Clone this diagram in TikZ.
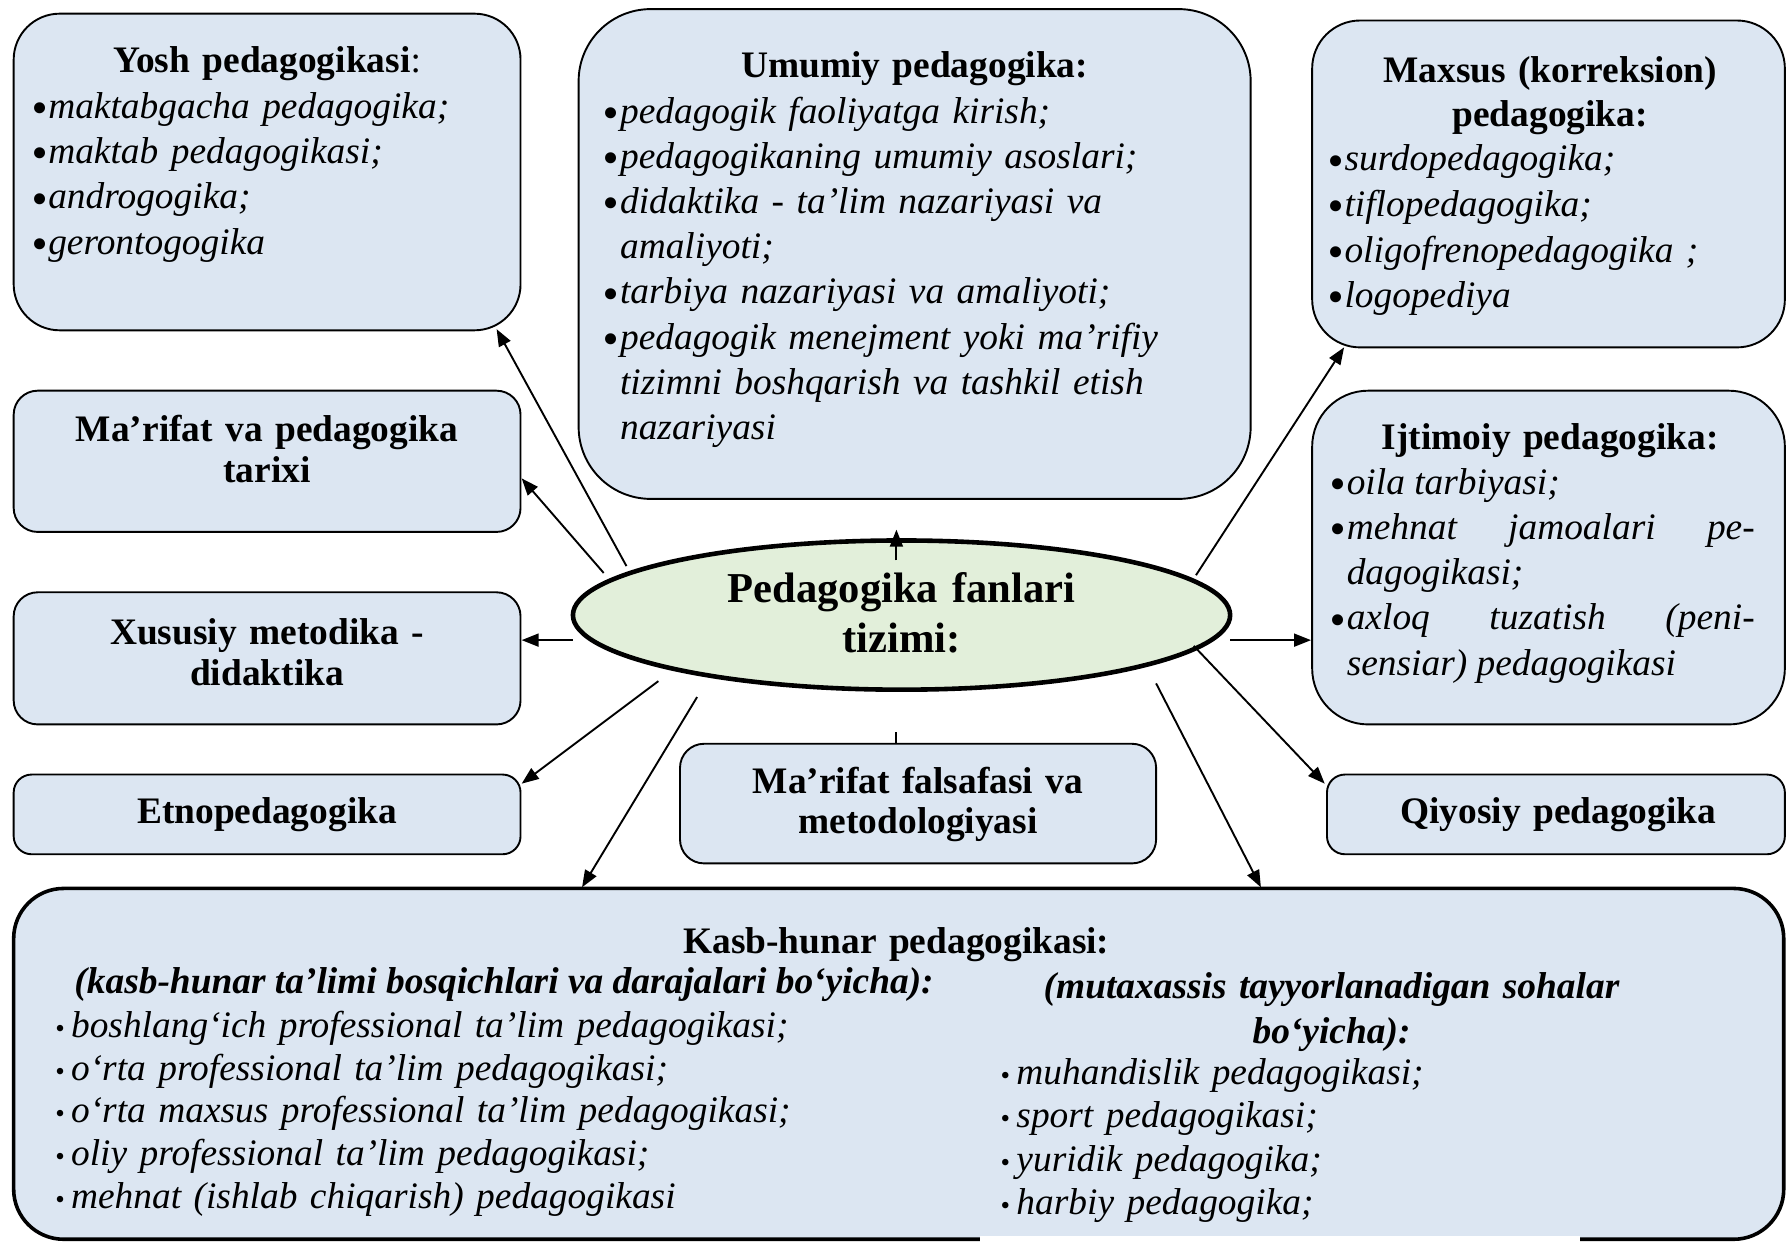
\documentclass[tikz,border=0pt]{standalone}
\usepackage{fontspec}
\setmainfont{Liberation Serif}
\usetikzlibrary{shapes.geometric,arrows.meta,fit}
\definecolor{boxblue}{HTML}{DCE6F2}
\definecolor{ellgreen}{HTML}{E2EFDA}
\newcommand{\bigbul}{\makebox[8pt][l]{\hspace{-0.6pt}\raisebox{-2.6pt}{\fontsize{23}{23}\selectfont\textbullet}}}
\newcommand{\itm}[1]{\hangindent=8pt\hangafter=1\bigbul#1\par}
\newcommand{\sitm}[1]{\makebox[8pt][l]{\fontsize{13.5}{13.5}\selectfont\textbullet}#1\par}
\begin{document}
\begin{tikzpicture}[x=0.5695pt,y=-0.5695pt,
  box/.style={draw=black, line width=0.95pt, fill=boxblue, rounded corners=#1, inner sep=0pt, outer sep=0pt},
  box/.default=10pt,
  ttl/.style={inner sep=0pt, anchor=base, text width=#1, align=center, font=\bfseries\fontsize{18.7}{20.5}\selectfont},
  ttl/.default=250pt,
  lst/.style={inner sep=0pt, anchor=base west, text width=#1, align=left, font=\itshape\fontsize{18.7}{22.6}\selectfont},
  lst/.default=330pt,
  arr/.style={line width=0.95pt, -{Triangle[length=8.5pt,width=6.5pt]}},
]
\useasboundingbox (0,0) rectangle (1568,1089.6);

% ---------- boxes ----------
\node[box=23pt, fit={(12,12) (457,290)}] (yosh) {};
\node[box=36pt, fit={(508,8) (1098,438)}] (umumiy) {};
\node[box=24pt, fit={(1152,18) (1567,305)}] (maxsus) {};
\node[box=12pt, fit={(12,343) (457,467)}] (tarixi) {};
\node[box=28pt, fit={(1152,343) (1567,636)}] (ijtimoiy) {};
\node[box=12pt, fit={(12,520) (457,636)}] (xususiy) {};
\node[box=9pt, fit={(12,680) (457,750)}] (etno) {};
\node[box=12pt, fit={(597,653) (1015,758)}] (falsafa) {};
\node[box=9pt, fit={(1165,680) (1567,750)}] (qiyosiy) {};
\node[box=25pt, line width=1.8pt, fit={(12,780) (1566,1088)}] (kasb) {};
\node[ellipse, draw=black, line width=2.3pt, fill=ellgreen, inner sep=0pt,
      minimum width=328.6pt, minimum height=74.6pt] (center) at (791.5,540) {};

% ---------- texts ----------
\node[ttl] (yoshT) at (234.5,64) {Yosh pedagogikasi{\mdseries:}};
\node[lst] (yoshL) at (28,104) {\itm{maktabgacha pedagogika;}\itm{maktab pedagogikasi;}\itm{androgogika;}\itm{gerontogogika}};

\node[ttl] (umT) at (803,68) {Umumiy pedagogika:};
\node[lst, font=\itshape\fontsize{18.7}{22.6}\selectfont] (umL) at (530,108) {\itm{pedagogik faoliyatga kirish;}\itm{pedagogikaning umumiy asoslari;}\itm{didaktika - ta’lim nazariyasi va\newline amaliyoti;}\itm{tarbiya nazariyasi va amaliyoti;}\itm{pedagogik menejment yoki ma’rifiy\newline tizimni boshqarish va tashkil etish\newline nazariyasi}};

\node[ttl, font=\bfseries\fontsize{18.7}{22.2}\selectfont] (maxT) at (1361,72) {Maxsus (korreksion)\\pedagogika:};
\node[lst, font=\itshape\fontsize{18.7}{22.8}\selectfont] (maxL) at (1166,150) {\itm{surdopedagogika;}\itm{tiflopedagogika;}\itm{oligofrenopedagogika ;}\itm{logopediya}};

\node[ttl] (tarT) at (234.5,388) {Ma’rifat va pedagogika\\tarixi};

\node[ttl] (ijT) at (1361,395) {Ijtimoiy pedagogika:};
\node[lst=212pt, align=justify, font=\itshape\fontsize{18.7}{22.6}\selectfont] (ijL) at (1168,434) {\itm{oila tarbiyasi;}\itm{mehnat jamoalari pe-\linebreak dagogikasi;}\itm{axloq tuzatish (peni-\linebreak sensiar) pedagogikasi}};

\node[ttl] (xusT) at (234.5,566) {Xususiy metodika -\\didaktika};
\node[ttl] (etT) at (234.5,723) {Etnopedagogika};
\node[ttl, font=\bfseries\fontsize{18.7}{20}\selectfont] (falT) at (806,697) {Ma’rifat falsafasi va\\metodologiyasi};
\node[ttl] (qiT) at (1368,723) {Qiyosiy pedagogika};

\node[ttl, font=\bfseries\fontsize{21.3}{25}\selectfont] (cenT) at (791.5,529) {Pedagogika fanlari\\tizimi:};

\node[ttl=400pt] (kasbT) at (787,837) {Kasb-hunar pedagogikasi:};
\node[inner sep=0pt, anchor=base west, font=\bfseries\itshape\fontsize{18.7}{20}\selectfont] (kasbS1) at (65,872) {(kasb-hunar ta’limi bosqichlari va darajalari bo‘yicha):};
\node[lst=420pt, font=\itshape\fontsize{18.7}{21.3}\selectfont] (kasbL) at (48,911) {\sitm{boshlang‘ich professional ta’lim pedagogikasi;}\sitm{o‘rta professional ta’lim pedagogikasi;}\sitm{o‘rta maxsus professional ta’lim pedagogikasi;}\sitm{oliy professional ta’lim pedagogikasi;}\sitm{mehnat (ishlab chiqarish) pedagogikasi}};
\node[ttl=340pt, font=\bfseries\itshape\fontsize{18.7}{22.2}\selectfont] (kasbS2) at (1169,877) {(mutaxassis tayyorlanadigan sohalar\\bo‘yicha):};
\node[lst=300pt, font=\itshape\fontsize{18.7}{21.7}\selectfont] (kasbR) at (878,952) {\sitm{muhandislik pedagogikasi;}\sitm{sport pedagogikasi;}\sitm{yuridik pedagogika;}\sitm{harbiy pedagogika;}};

% ---------- connector ends ----------
\coordinate (s1) at (550,497);  \coordinate (e1) at (436,289);
\coordinate (s2) at (530,503);  \coordinate (e2) at (458,420);
\coordinate (s3) at (503,562);  \coordinate (e3) at (458,562);
\coordinate (s4) at (578,598);  \coordinate (e4) at (458,688);
\coordinate (s5) at (612,612);  \coordinate (e5) at (511,779);
\coordinate (s6) at (787,492);  \coordinate (e6) at (787,465);
\coordinate (s7) at (787,643);  \coordinate (e7) at (787,653);
\coordinate (s8) at (1080,562); \coordinate (e8) at (1151,562);
\coordinate (s9) at (1050,505); \coordinate (e9) at (1180,305);
\coordinate (s10) at (1048,567); \coordinate (e10) at (1163,688);
\coordinate (s11) at (1015,600); \coordinate (e11) at (1107,779);

\draw[arr] (s1) -- (e1);
\draw[arr] (s2) -- (e2);
\draw[arr] (s3) -- (e3);
\draw[arr] (s4) -- (e4);
\draw[arr] (s5) -- (e5);
\draw[arr] (s6) -- (e6);
\draw[line width=0.95pt] (s7) -- (e7);
\draw[arr] (s8) -- (e8);
\draw[arr] (s9) -- (e9);
\draw[arr] (s10) -- (e10);
\draw[arr] (s11) -- (e11);

\fill[white] (860,1085.5) rectangle (1387,1092);
\end{tikzpicture}
\end{document}
